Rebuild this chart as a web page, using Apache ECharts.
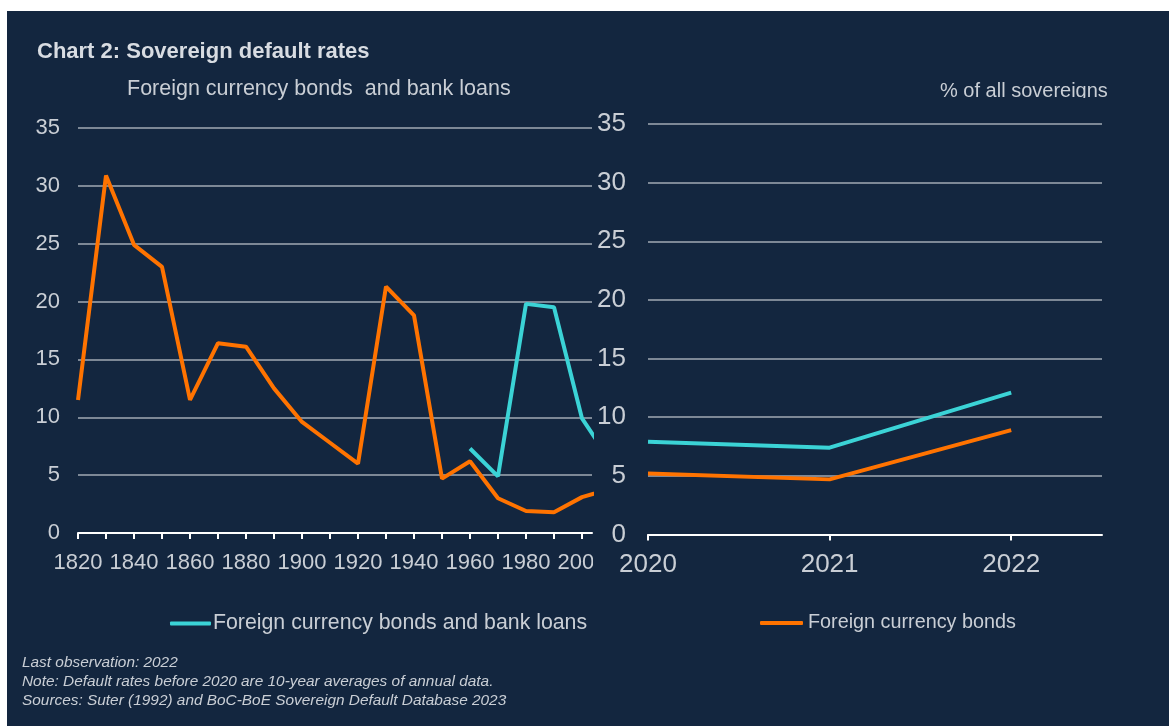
<!DOCTYPE html>
<html>
<head>
<meta charset="utf-8">
<title>Sovereign default rates</title>
<script src="https://cdn.jsdelivr.net/npm/echarts@6/dist/echarts.min.js"></script>
<style>
  html, body { margin: 0; padding: 0; background: #ffffff; }
  #panel { position: absolute; left: 7px; top: 11px; width: 1162px; height: 715px; background: #13263f; }
  #chart { position: absolute; left: 0; top: 0; width: 1169px; height: 726px; }
</style>
</head>
<body>
<div id="panel"></div>
<div id="chart"></div>
<script>
// Decade averages (left panel)
const decades = [1820, 1830, 1840, 1850, 1860, 1870, 1880, 1890, 1900, 1910,
                 1920, 1930, 1940, 1950, 1960, 1970, 1980, 1990, 2000, 2010];
const bondsDecades = [11.5, 30.9, 24.9, 23.0, 11.5, 16.4, 16.1, 12.5, 9.6, 7.8,
                      6.0, 21.3, 18.8, 4.7, 6.2, 3.0, 1.9, 1.8, 3.1, 3.8];
const bondsLoansDecades = [null, null, null, null, null, null, null, null, null, null,
                           null, null, null, null, 7.3, 4.9, 19.8, 19.5, 9.9, 6.3];

// Annual observations (right panel)
const years = [2020, 2021, 2022];
const bondsAnnual = [5.2, 4.7, 8.9];
const bondsLoansAnnual = [7.9, 7.4, 12.1];

// Axis ticks and labels
const leftTicks = [1820, 1830, 1840, 1850, 1860, 1870, 1880, 1890, 1900, 1910,
                   1920, 1930, 1940, 1950, 1960, 1970, 1980, 1990, 2000];
const leftLabels = [1820, 1840, 1860, 1880, 1900, 1920, 1940, 1960, 1980, 2000];
const rightTicks = [2020, 2021, 2022];

const NAME_BL = 'Foreign currency bonds and bank loans';
const NAME_B = 'Foreign currency bonds';

const NAVY = '#13263f';
const TEXT = '#c9ced5';
const GRID = '#a2aab4';
const ORANGE = '#ff7300';
const CYAN = '#3bd3d6';
const FONT = '"Liberation Sans", Arial, sans-serif';

const toPairs = (xs, ys) => xs.map((x, i) => [x, ys[i]]);

const chart = echarts.init(document.getElementById('chart'), null, { renderer: 'canvas' });

const lineSeries = (name, axisIdx, data, color, z) => ({
  name: name,
  type: 'line',
  xAxisIndex: axisIdx,
  yAxisIndex: axisIdx,
  data: data,
  showSymbol: false,
  symbol: 'none',
  connectNulls: false,
  clip: true,
  z: z,
  lineStyle: { color: color, width: 4 },
  itemStyle: { color: color },
  emphasis: { disabled: true },
  animation: false
});

chart.setOption({
  backgroundColor: 'transparent',
  animation: false,
  textStyle: { fontFamily: FONT },
  title: [
    { text: 'Chart 2: Sovereign default rates', left: 37, top: 41, padding: 0,
      textStyle: { color: '#d8dce2', fontSize: 22, fontWeight: 'bold', fontFamily: FONT } },
    { text: 'Foreign currency bonds  and bank loans', left: 127, top: 78, padding: 0,
      textStyle: { color: TEXT, fontSize: 21.5, fontWeight: 'normal', fontFamily: FONT } },
    { text: '% of all sovereigns', left: 940, top: 81, padding: 0,
      textStyle: { color: TEXT, fontSize: 20, fontWeight: 'normal', fontFamily: FONT } },
    { text: 'Last observation: 2022\nNote: Default rates before 2020 are 10-year averages of annual data.\nSources: Suter (1992) and BoC-BoE Sovereign Default Database 2023',
      left: 22, top: 653, padding: 0,
      textStyle: { color: TEXT, fontSize: 15.4, fontStyle: 'italic', fontWeight: 'normal',
                   lineHeight: 19, fontFamily: FONT } }
  ],
  legend: [
    { data: [NAME_BL], left: 170, top: 613, padding: 0, itemWidth: 41, itemHeight: 4,
      icon: 'roundRect', itemGap: 0, selectedMode: false,
      textStyle: { color: TEXT, fontSize: 21.3, fontFamily: FONT, padding: [0, 0, 0, -3] } },
    { data: [NAME_B], left: 760, top: 613, padding: 0, itemWidth: 43, itemHeight: 4,
      icon: 'roundRect', itemGap: 0, selectedMode: false,
      textStyle: { color: TEXT, fontSize: 19.8, fontFamily: FONT } }
  ],
  grid: [
    { left: 78, top: 128, width: 514, height: 405, containLabel: false },
    { left: 648, top: 124, width: 454, height: 410.5, containLabel: false }
  ],
  xAxis: [
    {
      gridIndex: 0, type: 'value', min: 1820, max: 1820 + 514 / 2.8,
      axisLine: { show: true, onZero: false, lineStyle: { color: '#ffffff', width: 2 } },
      axisTick: { show: true, customValues: leftTicks, length: 6, lineStyle: { color: '#ffffff', width: 2 } },
      axisLabel: { show: true, customValues: leftLabels, color: TEXT, fontSize: 22, margin: 19,
                   fontFamily: FONT, formatter: v => String(v) },
      splitLine: { show: false }
    },
    {
      gridIndex: 1, type: 'value', min: 2020, max: 2022.5, z: 110,
      axisLine: { show: true, onZero: false, lineStyle: { color: '#ffffff', width: 2 } },
      axisTick: { show: true, customValues: rightTicks, length: 6, lineStyle: { color: '#ffffff', width: 2 } },
      axisLabel: { show: true, customValues: rightTicks, color: TEXT, fontSize: 26, margin: 17,
                   fontFamily: FONT, formatter: v => String(v) },
      splitLine: { show: false }
    }
  ],
  yAxis: [
    {
      gridIndex: 0, type: 'value', min: 0, max: 35, interval: 5,
      axisLine: { show: false }, axisTick: { show: false },
      axisLabel: { color: TEXT, fontSize: 22, margin: 18, fontFamily: FONT },
      splitLine: { show: true, lineStyle: { color: GRID, width: 1.5 } }
    },
    {
      gridIndex: 1, type: 'value', min: 0, max: 35, interval: 5, z: 110,
      axisLine: { show: false }, axisTick: { show: false },
      axisLabel: { color: TEXT, fontSize: 26, margin: 22, fontFamily: FONT },
      splitLine: { show: true, lineStyle: { color: GRID, width: 1.5 } }
    }
  ],
  graphic: [
    // panel edge: hides whatever of the left axis runs past its plot width
    { type: 'rect', z: 100, silent: true,
      shape: { x: 593, y: 546, width: 50, height: 32 }, style: { fill: NAVY } },
    // bottom edge of the unit caption
    { type: 'rect', z: 100, silent: true,
      shape: { x: 930, y: 98, width: 190, height: 8 }, style: { fill: NAVY } }
  ],
  series: [
    lineSeries(NAME_BL, 0, toPairs(decades, bondsLoansDecades), CYAN, 3),
    lineSeries(NAME_B, 0, toPairs(decades, bondsDecades), ORANGE, 4),
    lineSeries(NAME_BL, 1, toPairs(years, bondsLoansAnnual), CYAN, 120),
    lineSeries(NAME_B, 1, toPairs(years, bondsAnnual), ORANGE, 121)
  ]
});
</script>
</body>
</html>
